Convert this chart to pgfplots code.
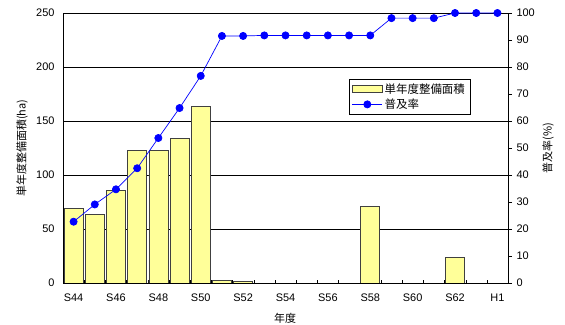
\documentclass[border=0pt]{standalone}
\usepackage{fontspec}
\setmainfont{Liberation Sans}
\newfontfamily\cjk{Noto Sans CJK JP}
\usepackage{pgfplots}
\usepackage{pgfplotstable}
\pgfplotsset{compat=1.18}
\definecolor{baryellow}{RGB}{255,255,153}
\definecolor{linblue}{RGB}{0,0,255}
\pgfplotsset{
  lineleg/.style={legend image code/.code={\draw[##1, mark repeat=2, mark phase=2] plot coordinates {(0bp,0bp) (15bp,0bp) (30bp,0bp)};}},
  barleg/.style={legend image code/.code={\draw[fill=baryellow, draw=black!75, line width=0.6pt] (0bp,-3.5bp) rectangle (30bp,3.5bp);}}
}
\pgfplotstableread{
x rate
0 22.7
1 29.1
2 34.7
3 42.5
4 53.7
5 64.8
6 76.7
7 91.5
8 91.5
9 91.7
10 91.7
11 91.7
12 91.7
13 91.7
14 91.7
15 98.1
16 98.1
17 98.1
18 100
19 100
20 100
}\ratetable
\pgfplotstableread{
x area
0 69
1 63.5
2 86
3 123
4 123
5 134
6 163.5
7 2.5
8 1.5
14 71
18 23.5
}\areatable
\begin{document}
\begin{tikzpicture}
\useasboundingbox (0,0) rectangle (565bp,325bp);
\begin{axis}[
  at={(63bp,42bp)}, anchor=south west,
  scale only axis, width=445bp, height=270bp,
  xmin=-0.5, xmax=20.5, ymin=0, ymax=250,
  ytick={0,50,...,250},
  xtick={0,...,20},
  xticklabels={S44,,S46,,S48,,S50,,S52,,S54,,S56,,S58,,S60,,S62,,H1},
  minor xtick={0.5,1.5,...,19.5},
  major x tick style={draw=none},
  minor tick length=3bp,
  tick align=inside,
  xtick pos=bottom, ytick pos=left,
  ymajorgrids, grid style={black, line width=0.7pt},
  axis line style={black, line width=0.8pt},
  tick style={black},
  ticklabel style={font=\fontsize{11}{13}\selectfont},
  /pgf/number format/assume math mode=true,
  xticklabel style={yshift=-7bp},
  yticklabel style={xshift=-5bp},
  ylabel={\cjk 単年度整備面積(ha)},
  ylabel style={at={(axis description cs:-0.092,0.5)}, anchor=center, font=\fontsize{11}{13}\selectfont},
  xlabel={\cjk 年度},
  xlabel style={at={(axis description cs:0.499,-0.13)}, anchor=center, font=\fontsize{11}{13}\selectfont},
]
\addplot[ybar, bar width=19bp, fill=baryellow, draw=black!75, line width=0.6pt] table[x=x,y=area]{\areatable};
\end{axis}
\begin{axis}[
  at={(63bp,42bp)}, anchor=south west,
  scale only axis, width=445bp, height=270bp,
  xmin=-0.5, xmax=20.5, ymin=0, ymax=100,
  axis x line=none,
  axis y line*=right,
  ytick={0,10,...,100},
  tick align=outside,
  major tick length=4bp,
  axis line style={black, line width=0.8pt},
  tick style={black},
  ticklabel style={font=\fontsize{11}{13}\selectfont},
  /pgf/number format/assume math mode=true,
  yticklabel style={xshift=1bp},
  ylabel={\cjk 普及率(\%)},
  ylabel style={at={(axis description cs:1.09,0.5)}, anchor=center, rotate=0, font=\fontsize{11}{13}\selectfont},
  legend style={at={(0.915,0.756)}, anchor=north east, draw=black, line width=0.6pt,
    font=\cjk\fontsize{11.5}{13}\selectfont, inner xsep=3bp, inner ysep=2.5bp, row sep=0bp, cells={anchor=west}},
]
\addlegendimage{barleg}
\addlegendentry{単年度整備面積}
\addplot[linblue, line width=0.7pt, mark=*, mark size=3.6bp, mark options={fill=linblue, draw=linblue}, lineleg]
  table[x=x,y=rate]{\ratetable};
\addlegendentry{普及率}
\end{axis}
\end{tikzpicture}
\end{document}
